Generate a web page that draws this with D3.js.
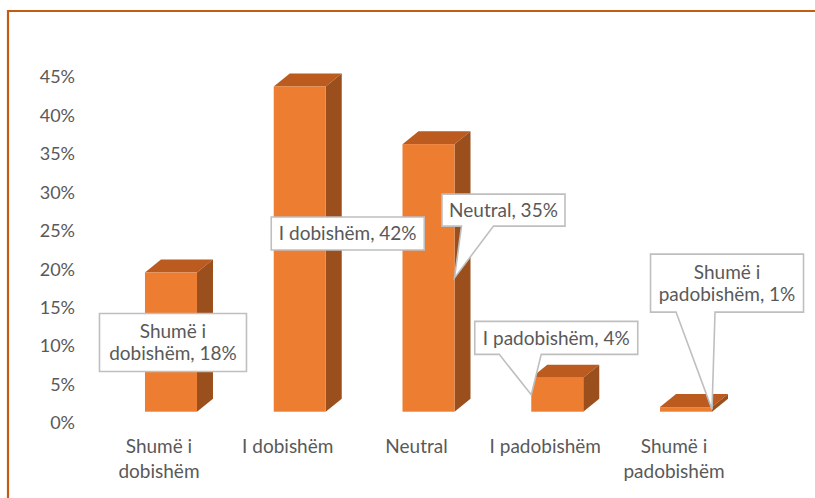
<!DOCTYPE html>
<html>
<head>
<meta charset="utf-8">
<script src="https://cdn.jsdelivr.net/npm/d3@7"></script>
<style>
  html, body { margin: 0; padding: 0; background: #fff; }
  svg text { font-family: Lato, "Open Sans", sans-serif; fill: #595959; }
</style>
</head>
<body>
<div id="chart"></div>
<script>
// --- Data ---
const categories = ["Shumë i dobishëm", "I dobishëm", "Neutral", "I padobishëm", "Shumë i padobishëm"];
const categoryLines = [["Shumë i", "dobishëm"], ["I dobishëm"], ["Neutral"], ["I padobishëm"], ["Shumë i", "padobishëm"]];
const values = [0.181, 0.423, 0.348, 0.044, 0.006];
const labelLines = [["Shumë i", "dobishëm, 18%"], ["I dobishëm, 42%"], ["Neutral, 35%"], ["I padobishëm, 4%"], ["Shumë i", "padobishëm, 1%"]];
const yTicks = [0, 0.05, 0.1, 0.15, 0.2, 0.25, 0.3, 0.35, 0.4, 0.45];

// callout layout relative to bar (dx from bar centre, dy from bar top), pointer side
const calloutLayout = [
    { dx: 2, dy: 70, w: 147, h: 58, tip: null },
    { dx: 48, dy: 147, w: 153, h: 33, tip: null },
    { dx: 75, dy: 66, w: 123, h: 32, tip: "right", base: [-42, -10] },
    { dx: -1, dy: -40, w: 163, h: 33, tip: "left", base: [-57, -15] },
    { dx: 41, dy: -124, w: 153, h: 58, tip: "right", base: [-51, -12] }
];

const width = 815, height = 498;
const barW = 52, depthX = 16, depthY = -13;

const svg = d3.select("#chart").append("svg")
    .attr("width", width)
    .attr("height", height);

// chart frame
svg.append("path")
    .attr("d", `M8,${height + 5} L8,11 L${width + 5},11`)
    .attr("fill", "none")
    .attr("stroke", "#c55a11")
    .attr("stroke-width", 2.2);

const x = d3.scalePoint()
    .domain(categories)
    .range([106.6, 750.4])
    .padding(0.5);

// front face of the bars sits a little in front of the axis plane
const yBar = d3.scaleLinear().domain([0, 0.45]).range([411.7, 65.7]);
const yAxis = d3.scaleLinear().domain([0, 0.45]).range([423, 77]);

// --- Y axis labels ---
svg.append("g").selectAll("text")
    .data(yTicks)
    .join("text")
    .attr("x", 75)
    .attr("y", d => yAxis(d))
    .attr("dy", "0.35em")
    .attr("text-anchor", "end")
    .style("font-size", "18px")
    .text(d => d3.format(".0%")(d));

// --- Bars (3D) ---
const bars = svg.append("g").selectAll("g.bar")
    .data(values)
    .join("g")
    .attr("class", "bar");

bars.each(function(v, i) {
    const g = d3.select(this);
    const x0 = x(categories[i]) - barW / 2, x1 = x0 + barW;
    const yt = yBar(v), yb = yBar(0);
    // top
    g.append("path")
        .attr("d", `M${x0},${yt} L${x0 + depthX},${yt + depthY} L${x1 + depthX},${yt + depthY} L${x1},${yt} Z`)
        .attr("fill", "#bb5b1f");
    // side
    g.append("path")
        .attr("d", `M${x1},${yt} L${x1 + depthX},${yt + depthY} L${x1 + depthX},${yb + depthY} L${x1},${yb} Z`)
        .attr("fill", "#9a4f1c");
    // front
    g.append("rect")
        .attr("x", x0).attr("y", yt)
        .attr("width", barW).attr("height", yb - yt)
        .attr("fill", "#ed7d31");
});

// --- Category labels ---
svg.append("g").selectAll("text")
    .data(categories)
    .join("text")
    .attr("x", d => x(d) - 12)
    .attr("y", 453)
    .attr("text-anchor", "middle")
    .style("font-size", "19px")
    .each(function(d, i) {
        d3.select(this).selectAll("tspan")
            .data(categoryLines[i])
            .join("tspan")
            .attr("x", x(d) - 12)
            .attr("dy", (t, j) => j === 0 ? 0 : 25)
            .text(t => t);
    });

// --- Data label callouts ---
const callouts = svg.append("g").selectAll("g.callout")
    .data(values)
    .join("g")
    .attr("class", "callout");

callouts.each(function(v, i) {
    const g = d3.select(this);
    const L = calloutLayout[i];
    const bx = x(categories[i]);
    const yt = yBar(v), yb = yBar(0);
    const cx = bx + L.dx, cy = yt + L.dy;
    const left = cx - L.w / 2, right = cx + L.w / 2;
    const top = cy - L.h / 2, bottom = cy + L.h / 2;

    let d;
    if (L.tip) {
        // pointer to the middle of the bar's front edge
        const tipX = L.tip === "right" ? bx + barW / 2 : bx - barW / 2;
        const tipY = (yt + yb) / 2;
        const baseA = cx + L.base[0];
        const baseB = cx + L.base[1];
        d = `M${left},${top} L${right},${top} L${right},${bottom} L${baseB},${bottom} L${tipX},${tipY} L${baseA},${bottom} L${left},${bottom} Z`;
    } else {
        d = `M${left},${top} L${right},${top} L${right},${bottom} L${left},${bottom} Z`;
    }
    g.append("path")
        .attr("d", d)
        .attr("fill", "#fff")
        .attr("stroke", "#bfbfbf")
        .attr("stroke-width", 1.6);

    const lines = labelLines[i];
    const lh = 22;
    g.append("text")
        .attr("text-anchor", "middle")
        .style("font-size", "19px")
        .selectAll("tspan")
        .data(lines)
        .join("tspan")
        .attr("x", cx)
        .attr("y", (t, j) => cy + (j - (lines.length - 1) / 2) * lh)
        .attr("dy", "0.35em")
        .text(t => t);
});
</script>
</body>
</html>
